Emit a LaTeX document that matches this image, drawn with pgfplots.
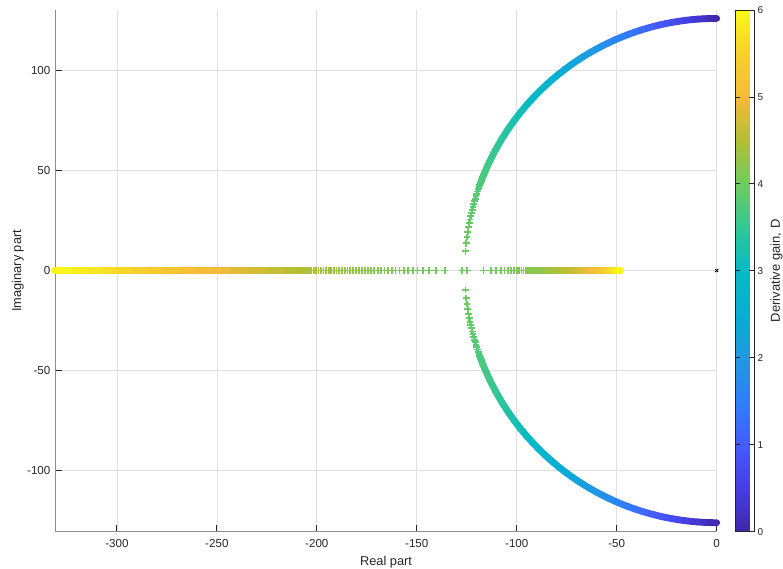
\documentclass[border=0pt]{standalone}
\usepackage{fontspec}
\setmainfont{Liberation Sans}
\usepackage{pgfplots}
\usepackage{pgfplotstable}
\pgfplotsset{compat=1.18}
\definecolor{txt}{rgb}{0.15,0.15,0.15}
\pgfplotsset{colormap={parula}{rgb=(0.2422,0.1504,0.6603) rgb=(0.2750,0.2400,0.8850) rgb=(0.2700,0.3600,0.9900) rgb=(0.1800,0.5000,0.9700) rgb=(0.1250,0.6000,0.8850) rgb=(0.0300,0.6800,0.8300) rgb=(0.0200,0.7300,0.7700) rgb=(0.1900,0.7800,0.5900) rgb=(0.4400,0.8000,0.3700) rgb=(0.7000,0.7500,0.2000) rgb=(0.9600,0.7300,0.2300) rgb=(0.9700,0.8200,0.1700) rgb=(0.9769,0.9839,0.0805)}}

% upper arc (dense part, drawn as a band)
\pgfplotstableread{
x y D
0 126 0
-3.16 125.96 0.1
-6.32 125.84 0.2
-9.48 125.64 0.3
-12.64 125.36 0.4
-15.80 125.01 0.5
-18.96 124.57 0.6
-22.12 124.04 0.7
-25.28 123.44 0.8
-28.44 122.75 0.9
-31.60 121.97 1.0
-34.76 121.11 1.1
-37.92 120.16 1.2
-41.08 119.12 1.3
-44.24 117.98 1.4
-47.40 116.74 1.5
-50.56 115.41 1.6
-53.72 113.97 1.7
-56.88 112.43 1.8
-60.04 110.78 1.9
-63.20 109.00 2.0
-66.36 107.11 2.1
-69.52 105.09 2.2
-72.68 102.93 2.3
-75.84 100.62 2.4
-79.00 98.16 2.5
-82.16 95.53 2.6
-85.32 92.72 2.7
-88.48 89.71 2.8
-91.64 86.48 2.9
-94.80 83.00 3.0
-97.96 79.25 3.1
-101.12 75.17 3.2
-104.28 70.72 3.3
-107.44 65.82 3.4
-110.60 60.36 3.5
-113.76 54.17 3.6
-116.92 46.97 3.7
-118.54 42.71 3.7513
}\arcup
\pgfplotstableread{
x y D
0 -126 0
-3.16 -125.96 0.1
-6.32 -125.84 0.2
-9.48 -125.64 0.3
-12.64 -125.36 0.4
-15.80 -125.01 0.5
-18.96 -124.57 0.6
-22.12 -124.04 0.7
-25.28 -123.44 0.8
-28.44 -122.75 0.9
-31.60 -121.97 1.0
-34.76 -121.11 1.1
-37.92 -120.16 1.2
-41.08 -119.12 1.3
-44.24 -117.98 1.4
-47.40 -116.74 1.5
-50.56 -115.41 1.6
-53.72 -113.97 1.7
-56.88 -112.43 1.8
-60.04 -110.78 1.9
-63.20 -109.00 2.0
-66.36 -107.11 2.1
-69.52 -105.09 2.2
-72.68 -102.93 2.3
-75.84 -100.62 2.4
-79.00 -98.16 2.5
-82.16 -95.53 2.6
-85.32 -92.72 2.7
-88.48 -89.71 2.8
-91.64 -86.48 2.9
-94.80 -83.00 3.0
-97.96 -79.25 3.1
-101.12 -75.17 3.2
-104.28 -70.72 3.3
-107.44 -65.82 3.4
-110.60 -60.36 3.5
-113.76 -54.17 3.6
-116.92 -46.97 3.7
-118.54 -42.71 3.7513
}\arcdown
% real-axis bands
\pgfplotstableread{
x y D
-89.46 0 4.2233
-85.01 0 4.3
-80.25 0 4.4
-76.28 0 4.5
-72.88 0 4.6
-69.89 0 4.7
-67.24 0 4.8
-64.84 0 4.9
-62.67 0 5.0
-60.68 0 5.1
-58.84 0 5.2
-57.15 0 5.3
-55.57 0 5.4
-54.09 0 5.5
-52.71 0 5.6
-51.41 0 5.7
-50.18 0 5.8
-49.02 0 5.9
-47.92 0 6.0
}\realright
\pgfplotstableread{
x y D
-204.03 0 4.4593
-208.12 0 4.5
-217.84 0 4.6
-227.15 0 4.7
-236.12 0 4.8
-244.84 0 4.9
-253.33 0 5.0
-261.64 0 5.1
-269.80 0 5.2
-277.81 0 5.3
-285.71 0 5.4
-293.51 0 5.5
-301.21 0 5.6
-308.83 0 5.7
-316.38 0 5.8
-323.86 0 5.9
-331.28 0 6.0
}\realleft
% separate markers near the breakaway point
\pgfplotstableread{
x y D
-127.2 0 3.9876
-124.8 0 3.9876
-125.63 9.69 3.9755
-125.25 13.69 3.9637
-124.88 16.76 3.9519
-124.51 19.33 3.9401
-124.14 21.60 3.9283
-123.76 23.64 3.9165
-123.39 25.52 3.9047
-123.02 27.26 3.8929
-122.64 28.89 3.8811
-122.27 30.43 3.8693
-121.90 31.89 3.8575
-121.52 33.29 3.8457
-121.15 34.62 3.8339
-120.78 35.90 3.8221
-120.41 37.13 3.8103
-120.03 38.32 3.7985
-119.66 39.47 3.7867
-119.29 40.58 3.7749
-118.91 41.66 3.7631
-118.54 42.71 3.7513
-118.17 43.73 3.7395
-117.79 44.73 3.7277
-117.42 45.70 3.7159
-117.05 46.64 3.7041
-125.63 -9.69 3.9755
-125.25 -13.69 3.9637
-124.88 -16.76 3.9519
-124.51 -19.33 3.9401
-124.14 -21.60 3.9283
-123.76 -23.64 3.9165
-123.39 -25.52 3.9047
-123.02 -27.26 3.8929
-122.64 -28.89 3.8811
-122.27 -30.43 3.8693
-121.90 -31.89 3.8575
-121.52 -33.29 3.8457
-121.15 -34.62 3.8339
-120.78 -35.90 3.8221
-120.41 -37.13 3.8103
-120.03 -38.32 3.7985
-119.66 -39.47 3.7867
-119.29 -40.58 3.7749
-118.91 -41.66 3.7631
-118.54 -42.71 3.7513
-118.17 -43.73 3.7395
-117.79 -44.73 3.7277
-117.42 -45.70 3.7159
-117.05 -46.64 3.7041
-116.67 0 3.9991
-113.02 0 4.0109
-110.29 0 4.0227
-108.04 0 4.0345
-106.11 0 4.0463
-104.39 0 4.0581
-102.83 0 4.0699
-101.40 0 4.0817
-100.08 0 4.0935
-98.85 0 4.1053
-97.68 0 4.1171
-96.60 0 4.1289
-95.56 0 4.1407
-94.57 0 4.1525
-93.63 0 4.1643
-92.73 0 4.1761
-91.87 0 4.1879
-91.03 0 4.1997
-90.24 0 4.2115
-89.46 0 4.2233
-136.07 0 3.9991
-140.48 0 4.0109
-143.95 0 4.0227
-146.94 0 4.0345
-149.63 0 4.0463
-152.09 0 4.0581
-154.39 0 4.0699
-156.56 0 4.0817
-158.64 0 4.0935
-160.61 0 4.1053
-162.52 0 4.1171
-164.36 0 4.1289
-166.14 0 4.1407
-167.87 0 4.1525
-169.56 0 4.1643
-171.21 0 4.1761
-172.81 0 4.1879
-174.39 0 4.1997
-175.94 0 4.2115
-177.46 0 4.2233
-178.94 0 4.2351
-180.42 0 4.2469
-181.86 0 4.2587
-183.28 0 4.2705
-184.69 0 4.2823
-186.08 0 4.2941
-187.44 0 4.3059
-188.79 0 4.3177
-190.14 0 4.3295
-191.46 0 4.3413
-192.76 0 4.3531
-194.07 0 4.3649
-195.35 0 4.3767
-196.62 0 4.3885
-197.88 0 4.4003
-199.13 0 4.4121
-200.37 0 4.4239
-201.59 0 4.4357
-202.82 0 4.4475
-204.03 0 4.4593
-205.23 0 4.4711
-206.42 0 4.4829
-207.61 0 4.4947
-208.78 0 4.5065
-209.95 0 4.5183
}\marks

\begin{document}
\begin{tikzpicture}
\path[use as bounding box] (-55.5bp,-37.3bp) rectangle (727.5bp,531.7bp);
\begin{axis}[
  at={(0,0)}, anchor=south west,
  scale only axis, width=661.2bp, height=521.7bp,
  xmin=-330.7, xmax=0, ymin=-130.5, ymax=130.2,
  clip=false,
  axis lines*=left,
  axis line style={color=black!45, line width=0.8bp},
  tick align=inside,
  major tick length=6.6bp,
  every tick/.style={color=txt, line width=0.8bp},
  xtick={-300,-250,-200,-150,-100,-50,0},
  ytick={-100,-50,0,50,100},
  grid=major,
  grid style={color=black!12, line width=0.7bp},
  /pgf/number format/assume math mode=true,
  tick label style={font=\fontsize{11.6bp}{13bp}\selectfont, text=txt},
  yticklabel style={xshift=-1.6bp},
  xticklabel style={yshift=-4.4bp},
  xlabel={Real part},
  ylabel={Imaginary part},
  label style={font=\fontsize{12.8bp}{14bp}\selectfont, text=txt},
  xlabel style={at={(rel axis cs:0.5,0)}, anchor=north, inner sep=0pt, yshift=-24.3bp},
  ylabel style={at={(rel axis cs:-0.06624,0.5)}, anchor=north, inner sep=0pt},
  colormap name=parula,
  point meta min=0, point meta max=6,
  colorbar,
  colorbar style={
    at={(parent axis.north east)}, anchor=north west, xshift=9.9bp,
    scale only axis, width=19bp, height=521.7bp,
    ytick={0,1,2,3,4,5,6},
    yticklabel pos=right,
    tick align=inside,
    major tick length=5bp,
    every tick/.style={color=txt, line width=0.8bp},
    axis line style={color=txt, line width=0.8bp},
    yticklabel style={font=\fontsize{10bp}{12bp}\selectfont, text=txt},
    /pgf/number format/assume math mode=true,
    ylabel={Derivative gain, D},
    ylabel style={at={(rel axis cs:1.845,0.5)}, anchor=north, inner sep=0pt, font=\fontsize{13bp}{15bp}\selectfont, text=txt},
  },
]
\addplot[mesh, line width=6.8bp, line cap=round, point meta=explicit] table[x=x, y=y, meta=D] {\arcup};
\addplot[mesh, line width=6.8bp, line cap=round, point meta=explicit] table[x=x, y=y, meta=D] {\arcdown};
\addplot[mesh, line width=6.5bp, line cap=round, point meta=explicit] table[x=x, y=y, meta=D] {\realright};
\addplot[mesh, line width=6.5bp, line cap=round, point meta=explicit] table[x=x, y=y, meta=D] {\realleft};
\addplot[scatter, only marks, mark=+, mark size=3.4bp, point meta=explicit,
  scatter/use mapped color={draw=mapped color, fill=mapped color, line width=1.8bp},
  mark options={line width=1.8bp}] table[x=x, y=y, meta=D] {\marks};
\addplot[only marks, mark=x, mark size=2.2bp, color=black, mark options={line width=0.8bp}] coordinates {(0,0)};
\end{axis}
\end{tikzpicture}
\end{document}
